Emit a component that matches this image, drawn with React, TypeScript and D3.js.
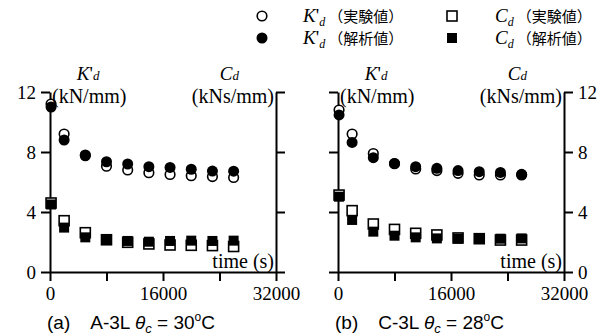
import React, { useEffect, useRef } from 'react';
import * as d3 from 'd3';

// time (s) of each measurement
const times = [150, 2000, 5000, 8000, 11000, 14000, 17000, 20000, 23000, 26000];

// (a) A-3L
const kExpA = [11.2, 9.2, 7.8, 7.05, 6.8, 6.62, 6.5, 6.42, 6.36, 6.3];
const kAnaA = [11.0, 8.8, 7.75, 7.35, 7.2, 7.02, 6.97, 6.85, 6.73, 6.72];
const cExpA = [4.6, 3.42, 2.62, 2.15, 1.98, 1.87, 1.8, 1.78, 1.76, 1.7];
const cAnaA = [4.5, 2.96, 2.31, 2.13, 2.07, 2.02, 2.07, 2.09, 2.07, 2.09];

// (b) C-3L
const kExpB = [10.8, 9.2, 7.9, 7.22, 6.87, 6.76, 6.58, 6.47, 6.47, 6.47];
const kAnaB = [10.47, 8.64, 7.62, 7.24, 7.02, 6.91, 6.76, 6.69, 6.64, 6.51];
const cExpB = [5.13, 4.09, 3.2, 2.84, 2.58, 2.47, 2.27, 2.22, 2.13, 2.13];
const cAnaB = [5.02, 3.47, 2.69, 2.42, 2.31, 2.24, 2.22, 2.2, 2.22, 2.24];

const xTicks = [0, 8000, 16000, 24000, 32000];
const xTickLabels = ['0', '', '16000', '', '32000'];
const yTicks = [0, 4, 8, 12];

const SERIF = "'Times New Roman', 'Liberation Serif', Tinos, 'DejaVu Serif', serif";
const SANS = "Arial, 'Liberation Sans', sans-serif";
const CJK = "'Noto Sans CJK JP', sans-serif";

const panels = [
  { left: 50, right: 276, labelsLeft: true, kExp: kExpA, kAna: kAnaA, cExp: cExpA, cAna: cAnaA, tag: '(a)', name: 'A-3L', temp: '30' },
  { left: 338, right: 564, labelsLeft: false, kExp: kExpB, kAna: kAnaB, cExp: cExpB, cAna: cAnaB, tag: '(b)', name: 'C-3L', temp: '28' },
];

const TOP = 92;
const BOTTOM = 272;

const App = () => {
  const svgRef = useRef<SVGSVGElement | null>(null);

  useEffect(() => {
    const svg = d3.select(svgRef.current);
    svg.selectAll('*').remove();

    const styleAxis = (g: any) => {
      g.attr('font-family', null).attr('font-size', 19);
      g.select('.domain').attr('stroke', '#000').attr('stroke-width', 2);
      g.selectAll('.tick line').attr('stroke', '#000').attr('stroke-width', 2);
      g.selectAll('.tick text').attr('fill', '#000');
    };

    panels.forEach((p) => {
      const x = d3.scaleLinear().domain([0, 32000]).range([p.left, p.right]);
      const y = d3.scaleLinear().domain([0, 12]).range([BOTTOM, TOP]);
      const g = svg.append('g').style('font-family', SERIF);

      // axes
      g.append('g')
        .attr('transform', `translate(0,${BOTTOM})`)
        .call(
          d3.axisBottom(x).tickValues(xTicks).tickSize(9).tickSizeOuter(0).tickPadding(6)
            .tickFormat((d, i) => xTickLabels[i])
        )
        .call(styleAxis);

      g.append('g')
        .attr('transform', `translate(${p.left},0)`)
        .call(
          d3.axisLeft(y).tickValues(yTicks).tickSize(9).tickSizeOuter(0).tickPadding(5)
            .tickFormat((d) => (p.labelsLeft ? String(d) : ''))
        )
        .call(styleAxis);

      g.append('g')
        .attr('transform', `translate(${p.right},0)`)
        .call(
          d3.axisRight(y).tickValues(yTicks).tickSize(9).tickSizeOuter(0).tickPadding(5)
            .tickFormat((d) => (p.labelsLeft ? '' : String(d)))
        )
        .call(styleAxis);

      // markers: open (experiment) first, filled (analysis) on top
      const sq = 10;
      g.selectAll('.cexp').data(p.cExp).enter().append('rect')
        .attr('x', (d, i) => x(times[i]) - sq / 2).attr('y', (d) => y(d) - sq / 2)
        .attr('width', sq).attr('height', sq)
        .attr('fill', '#fff').attr('stroke', '#000').attr('stroke-width', 1.6);
      g.selectAll('.cana').data(p.cAna).enter().append('rect')
        .attr('x', (d, i) => x(times[i]) - sq / 2).attr('y', (d) => y(d) - sq / 2)
        .attr('width', sq).attr('height', sq)
        .attr('fill', '#000');
      g.selectAll('.kexp').data(p.kExp).enter().append('circle')
        .attr('cx', (d, i) => x(times[i])).attr('cy', (d) => y(d)).attr('r', 4.8)
        .attr('fill', '#fff').attr('stroke', '#000').attr('stroke-width', 1.6);
      g.selectAll('.kana').data(p.kAna).enter().append('circle')
        .attr('cx', (d, i) => x(times[i])).attr('cy', (d) => y(d)).attr('r', 5.5)
        .attr('fill', '#000');

      // axis titles
      const kT = g.append('text').attr('x', x(5400)).attr('y', 80)
        .attr('text-anchor', 'middle').attr('font-size', 19);
      kT.append('tspan').attr('font-style', 'italic').text('K');
      kT.append('tspan').text("'");
      kT.append('tspan').attr('font-style', 'italic').attr('font-size', 13).text('d');

      g.append('text').attr('x', p.left + 2).attr('y', 103)
        .attr('font-size', 20).text('(kN/mm)');

      const cT = g.append('text').attr('x', x(25400)).attr('y', 80)
        .attr('text-anchor', 'middle').attr('font-size', 19);
      cT.append('tspan').attr('font-style', 'italic').text('C');
      cT.append('tspan').attr('font-style', 'italic').attr('font-size', 13).text('d');

      g.append('text').attr('x', p.right - 2).attr('y', 103).attr('text-anchor', 'end')
        .attr('font-size', 20).text('(kNs/mm)');

      g.append('text').attr('x', p.right - 2).attr('y', 268).attr('text-anchor', 'end')
        .attr('font-size', 20).text('time (s)');

      // caption
      const cap = g.append('text').attr('x', p.left - 3).attr('y', 329)
        .style('font-family', SANS).attr('font-size', 19);
      cap.append('tspan').text(p.tag);
      cap.append('tspan').attr('dx', 20).text(`${p.name} `);
      cap.append('tspan').attr('font-style', 'italic').text('θ');
      cap.append('tspan').attr('font-style', 'italic').attr('font-size', 13).attr('dy', 4).text('c');
      cap.append('tspan').attr('dy', -4).text(` = ${p.temp}`);
      cap.append('tspan').attr('font-size', 12).attr('dy', -8).text('o');
      cap.append('tspan').attr('dy', 8).text('C');
    });

    // legend
    const legendRows = [
      { kind: '（実験値）', filled: false, y: 16 },
      { kind: '（解析値）', filled: true, y: 38 },
    ];
    const lg = svg.append('g').style('font-family', SERIF);
    legendRows.forEach((r) => {
      lg.append('circle').attr('cx', 262).attr('cy', r.y).attr('r', r.filled ? 5.5 : 4.8)
        .attr('fill', r.filled ? '#000' : '#fff').attr('stroke', '#000').attr('stroke-width', r.filled ? 0 : 1.6);
      lg.append('rect').attr('x', 447).attr('y', r.y - 5).attr('width', 10).attr('height', 10)
        .attr('fill', r.filled ? '#000' : '#fff').attr('stroke', '#000').attr('stroke-width', r.filled ? 0 : 1.6);

      const t1 = lg.append('text').attr('x', 303).attr('y', r.y + 6).attr('font-size', 19);
      t1.append('tspan').attr('font-style', 'italic').text('K');
      t1.append('tspan').text("'");
      t1.append('tspan').attr('font-style', 'italic').attr('font-size', 12).attr('dy', 4).text('d');
      t1.append('tspan').attr('dy', -4).attr('dx', 3).style('font-family', CJK).attr('font-size', 15).text(r.kind);

      const t2 = lg.append('text').attr('x', 495).attr('y', r.y + 6).attr('font-size', 19);
      t2.append('tspan').attr('font-style', 'italic').text('C');
      t2.append('tspan').attr('font-style', 'italic').attr('font-size', 12).attr('dy', 4).text('d');
      t2.append('tspan').attr('dy', -4).attr('dx', 3).style('font-family', CJK).attr('font-size', 15).text(r.kind);
    });
  }, []);

  return (
    <svg
      ref={svgRef}
      width={599}
      height={336}
      style={{ position: 'absolute', left: 0, top: 0, background: '#fff' }}
    />
  );
};

export default App;
